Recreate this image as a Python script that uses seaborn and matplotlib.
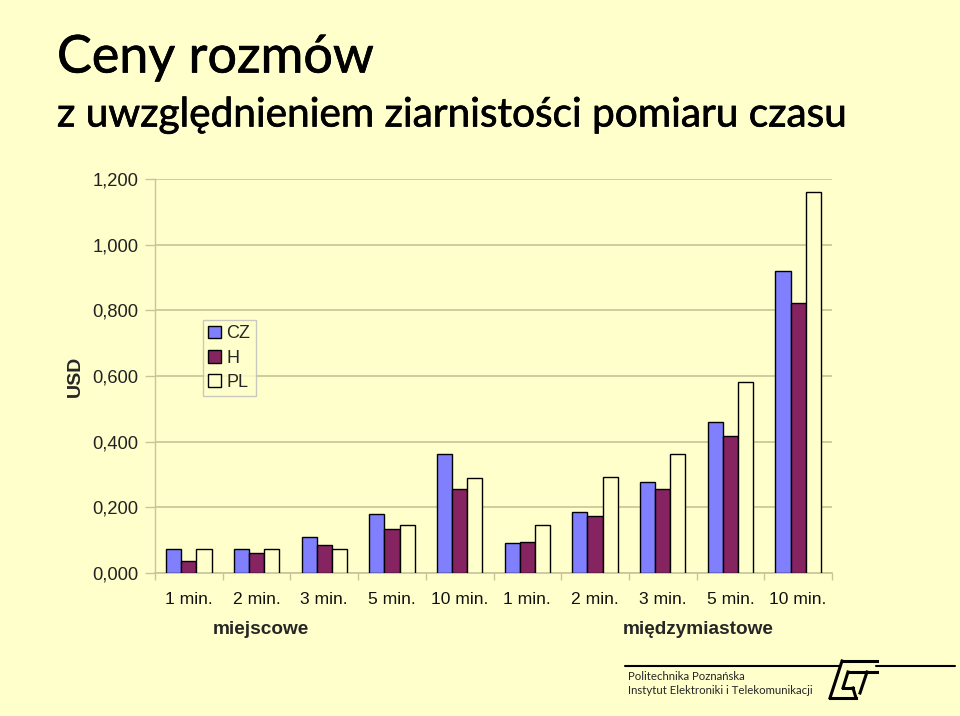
import matplotlib
matplotlib.use("Agg")
import matplotlib.pyplot as plt
import matplotlib.patheffects as pe
import seaborn as sns
import pandas as pd
from matplotlib.lines import Line2D

# ---- data ----
tick_labels = ["1 min.", "2 min.", "3 min.", "5 min.", "10 min.",
               "1 min.", "2 min.", "3 min.", "5 min.", "10 min."]
group_labels = ["miejscowe", "międzymiastowe"]
series_names = ["CZ", "H", "PL"]
cz = [0.072, 0.072, 0.109, 0.181, 0.361, 0.092, 0.185, 0.276, 0.460, 0.921]
h = [0.036, 0.061, 0.085, 0.134, 0.256, 0.093, 0.175, 0.256, 0.418, 0.822]
pl = [0.072, 0.072, 0.072, 0.145, 0.290, 0.146, 0.291, 0.363, 0.582, 1.161]
y_ticks = [0.0, 0.2, 0.4, 0.6, 0.8, 1.0, 1.2]
y_tick_labels = ["0,000", "0,200", "0,400", "0,600", "0,800", "1,000", "1,200"]

rows = []
for name, vals in zip(series_names, [cz, h, pl]):
    for i, v in enumerate(vals):
        rows.append({"cat": f"c{i}", "kraj": name, "USD": v})
df = pd.DataFrame(rows)
cat_order = [f"c{i}" for i in range(len(tick_labels))]

BG = "#FFFFCC"
GRID = "#C8C497"
palette = {"CZ": "#8080FF", "H": "#862462", "PL": "#FFFFCC"}

sns.set_theme(style="white")
plt.rcParams["font.family"] = ["Liberation Sans", "DejaVu Sans"]

fig = plt.figure(figsize=(9.6, 7.16), dpi=100, facecolor=BG)
ax = fig.add_axes([155/960, 1-573/716, (832-155)/960, (573-179)/716])
ax.set_facecolor(BG)

sns.barplot(data=df, x="cat", y="USD", hue="kraj", order=cat_order,
            hue_order=series_names, palette=palette, width=0.67,
            edgecolor="black", linewidth=1.0, saturation=1, ax=ax, zorder=3)

ax.set_ylim(0, 1.2)
ax.set_xlim(-0.5, len(tick_labels) - 0.5)
ax.set_yticks(y_ticks)
ax.set_yticklabels(y_tick_labels, fontsize=13.2, color="#222222")
ax.set_xticks(range(len(tick_labels)))
ax.set_xticklabels(tick_labels, fontsize=12.6, color="#111111")
ax.tick_params(axis="x", length=0, pad=14)
ax.tick_params(axis="y", length=7, width=1, color=GRID, pad=5, left=True)
ax.set_xticks([i + 0.5 for i in range(-1, len(tick_labels))], minor=True)
ax.tick_params(axis="x", which="minor", length=5, width=1, color=GRID, bottom=True)

ax.grid(axis="y", color=GRID, linewidth=1.2, zorder=0)
ax.grid(axis="x", visible=False)
for side in ["top", "right"]:
    ax.spines[side].set_visible(False)
ax.spines["left"].set_color(GRID)
ax.spines["bottom"].set_color(GRID)
ax.spines["left"].set_linewidth(1)
ax.spines["bottom"].set_linewidth(1.2)

ax.set_xlabel("")
ax.set_ylabel("USD", fontsize=14, fontweight="bold", labelpad=6)

leg = ax.legend(loc="upper left", bbox_to_anchor=((203-155)/677, (573-320)/394),
                frameon=True, fontsize=13, handlelength=0.7, handleheight=0.7,
                handletextpad=0.3, borderpad=0.3, labelspacing=0.4,
                borderaxespad=0, fancybox=False)
leg.get_frame().set_edgecolor("#BBBBBB")
leg.get_frame().set_facecolor(BG)
leg.get_frame().set_linewidth(1)

# group labels
fig.text(261/960, 1-629/716, group_labels[0], fontsize=13.7, fontweight="bold",
         ha="center", va="center")
fig.text(698/960, 1-629/716, group_labels[1], fontsize=13.7, fontweight="bold",
         ha="center", va="center")

# titles
stroke = [pe.withStroke(linewidth=0.5, foreground="black")]
fig.text(57/960, 1-58/716, "Ceny rozmów", fontsize=37.5, family="Lato",
         ha="left", va="center", color="black", path_effects=stroke)
fig.text(57/960, 1-115/716, "z uwzględnieniem ziarnistości pomiaru czasu",
         fontsize=29.2, family="Lato", ha="left", va="center", color="black",
         path_effects=stroke)

# footer
fig.add_artist(Line2D([625/960, 840/960], [1-666/716, 1-666/716], color="black", lw=1.5))
fig.add_artist(Line2D([876/960, 955/960], [1-666/716, 1-666/716], color="black", lw=1.5))
fig.text(628/960, 1-677/716, "Politechnika Poznańska", fontsize=8.2, family="Lato",
         ha="left", va="center")
fig.text(628/960, 1-690/716, "Instytut Elektroniki i Telekomunikacji", fontsize=8.2,
         family="Lato", ha="left", va="center")
# stylised logo
logo = [
    ([842, 877], [661, 661]),
    ([842, 830], [661, 698]),
    ([830, 856], [698, 698]),
    ([848, 858], [672, 672]),
    ([848, 843], [672, 688]),
    ([843, 853], [688, 688]),
    ([853, 856], [688, 698]),
    ([860, 877], [672, 672]),
    ([867, 860], [672, 693]),
]
for xs, ys in logo:
    fig.add_artist(Line2D([x/960 for x in xs], [1-y/716 for y in ys],
                          color="black", lw=2.2, solid_capstyle="projecting"))

fig.savefig("out.png", dpi=100, facecolor=BG)
